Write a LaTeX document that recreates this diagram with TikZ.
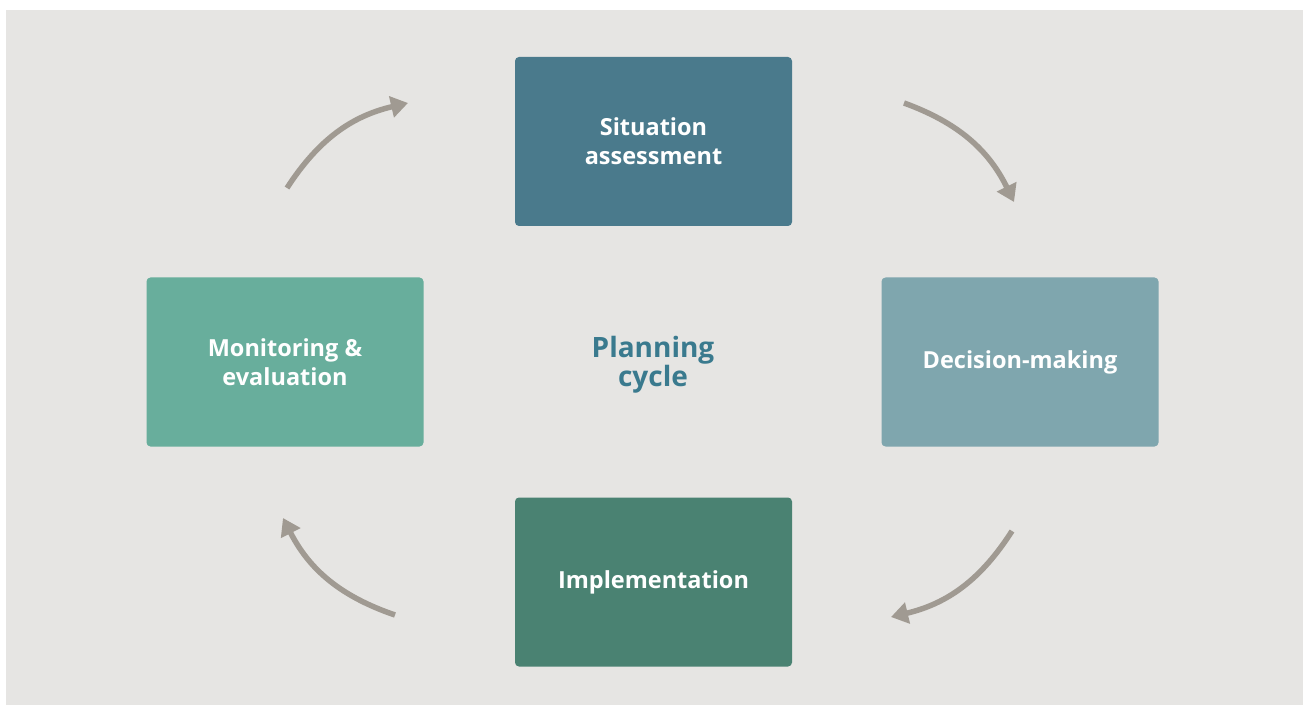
\documentclass[tikz,border=0pt]{standalone}
\usepackage{fontspec}
\setmainfont{Open Sans}
\usetikzlibrary{arrows.meta}

\definecolor{bgpaper}{HTML}{E6E5E3}
\definecolor{stepA}{HTML}{4A7A8C}
\definecolor{stepB}{HTML}{7FA6AE}
\definecolor{stepC}{HTML}{4A8272}
\definecolor{stepD}{HTML}{68AE9C}
\definecolor{cycletext}{HTML}{3A7A8E}
\definecolor{arrowgrey}{HTML}{A09A92}

\begin{document}
\begin{tikzpicture}[x=1pt,y=1pt,
		stage/.style={rectangle, rounded corners=4pt, minimum width=277pt, minimum height=169pt,
			text=white, font=\fontsize{23.5}{29}\selectfont\bfseries, align=center, inner sep=0pt},
		flow/.style={line width=5.5pt, arrowgrey, -{Triangle[length=17pt,width=21pt]}, bend left=22}]
			\useasboundingbox (0,0) rectangle (1303,705);
			\fill[bgpaper] (6,0) rectangle (1303,695);
			\node[stage, fill=stepA] (sit) at (653.5,563.5) {Situation\\assessment};
			\node[stage, fill=stepB] (dec) at (1020,343) {Decision-making};
			\node[stage, fill=stepC] (imp) at (653.5,123) {Implementation};
			\node[stage, fill=stepD] (mon) at (285,343) {Monitoring \&\\evaluation};
			\node[text=cycletext, font=\fontsize{28}{29}\selectfont\bfseries, align=center] (cyc) at (653,340) {Planning\\cycle};
			% free ends of the arrows
			\coordinate (a1) at (287,517);
			\coordinate (a2) at (408,602);
			\coordinate (b1) at (904,602);
			\coordinate (b2) at (1014,503);
			\coordinate (c1) at (1012,174);
			\coordinate (c2) at (891,88);
			\coordinate (d1) at (395,90);
			\coordinate (d2) at (283,187);
			\path[flow]
			(a1) edge (a2)
			(b1) edge (b2)
			(c1) edge (c2)
			(d1) edge (d2);
		\end{tikzpicture}
\end{document}
